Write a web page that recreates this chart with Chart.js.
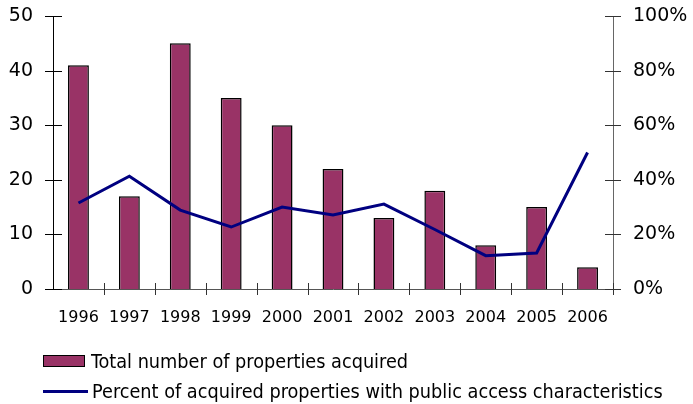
<!DOCTYPE html>
<html>
<head>
<meta charset="utf-8">
<script src="https://cdn.jsdelivr.net/npm/chart.js@4/dist/chart.umd.min.js"></script>
<style>
  html, body { margin: 0; padding: 0; background: #fff; }
  #wrap { position: relative; width: 693px; height: 404px; }
  #legend { position: absolute; left: 43px; top: 346px; font-family: "DejaVu Sans Condensed", "Liberation Sans Narrow", "DejaVu Sans", sans-serif; font-size: 19.7px; color: #000; }
  .item { display: flex; align-items: center; height: 30px; }
  .swatch { width: 42px; height: 12px; margin-right: 6px; box-sizing: border-box; }
  .bar { background: #993366; border: 1.5px solid #000; }
  .line { height: 3px; background: #000080; width: 45px; margin-right: 4px; }
</style>
</head>
<body>
<div id="wrap">
  <canvas id="c" width="693" height="404"></canvas>
  <div id="legend">
    <div class="item"><span class="swatch bar"></span>Total number of properties acquired</div>
    <div class="item"><span class="swatch line"></span>Percent of acquired properties with public access characteristics</div>
  </div>
</div>
<script>
// データ
const years = ["1996","1997","1998","1999","2000","2001","2002","2003","2004","2005","2006"];
const totalAcquired = [41, 17, 45, 35, 30, 22, 13, 18, 8, 15, 4];
const pctPublic = [31.5, 41.3, 28.9, 22.7, 30.0, 27.1, 31.1, 21.8, 12.2, 13.2, 50.0];
const leftTicks = [0, 10, 20, 30, 40, 50];
const rightTicks = [0, 20, 40, 60, 80, 100];

const tickFont = { family: "DejaVu Sans", size: 19 };

// 軸をまたぐ目盛り線
const crossTicks = {
  id: "crossTicks",
  afterDraw(chart) {
    const ctx = chart.ctx;
    const { y, y1, x } = chart.scales;
    ctx.save();
    ctx.lineWidth = 1;
    ctx.strokeStyle = "#000";
    y.ticks.forEach((t, i) => {
      const py = Math.round(y.getPixelForTick(i)) + 0.5;
      ctx.beginPath(); ctx.moveTo(y.right - 8, py); ctx.lineTo(y.right + 9, py); ctx.stroke();
    });
    ctx.strokeStyle = "#333";
    y1.ticks.forEach((t, i) => {
      const py = Math.round(y1.getPixelForTick(i)) + 0.5;
      ctx.beginPath(); ctx.moveTo(y1.left - 8, py); ctx.lineTo(y1.left + 8, py); ctx.stroke();
    });
    for (let i = 0; i < years.length; i++) {
      const px = Math.round(x.getPixelForValue(i) + (x.getPixelForValue(1) - x.getPixelForValue(0)) / 2) + 0.5;
      ctx.beginPath(); ctx.moveTo(px, x.top - 6); ctx.lineTo(px, x.top + 6); ctx.stroke();
    }
    ctx.restore();
  }
};

function noPad(s) { s.paddingTop = 0; s.paddingBottom = 0; s.paddingLeft = 0; s.paddingRight = 0; }

new Chart(document.getElementById("c"), {
  data: {
    labels: years,
    datasets: [
      {
        type: "line",
        label: "Percent of acquired properties with public access characteristics",
        data: pctPublic,
        yAxisID: "y1",
        borderColor: "#000080",
        borderWidth: 3,
        pointRadius: 0,
        tension: 0,
        order: 0
      },
      {
        type: "bar",
        label: "Total number of properties acquired",
        data: totalAcquired,
        yAxisID: "y",
        backgroundColor: "#993366",
        borderColor: "#000",
        borderWidth: 1.5,
        barPercentage: 0.41,
        categoryPercentage: 1,
        order: 1
      }
    ]
  },
  options: {
    responsive: false,
    animation: false,
    layout: { padding: { top: 16, left: 0, right: 0, bottom: 0 } },
    plugins: { legend: { display: false }, tooltip: { enabled: false } },
    scales: {
      x: {
        offset: true,
        grid: { display: false },
        border: { color: "#555", width: 1 },
        ticks: { font: { family: "DejaVu Sans", size: 16 }, color: "#000", padding: 11, maxRotation: 0, autoSkip: false },
        afterFit(s) { s.height = 115; noPad(s); }
      },
      y: {
        position: "left",
        min: 0, max: 50,
        afterBuildTicks(s) { s.ticks = leftTicks.map(v => ({ value: v })); },
        grid: { display: false },
        border: { color: "#000", width: 1 },
        ticks: { font: tickFont, color: "#000", padding: 12 },
        afterFit(s) { s.width = 53; noPad(s); }
      },
      y1: {
        position: "right",
        min: 0, max: 100,
        afterBuildTicks(s) { s.ticks = rightTicks.map(v => ({ value: v })); },
        grid: { display: false },
        border: { color: "#666", width: 1 },
        ticks: { font: tickFont, color: "#000", padding: 12, callback: v => v + "%" },
        afterFit(s) { s.width = 80; noPad(s); }
      }
    }
  },
  plugins: [crossTicks]
});
</script>
</body>
</html>
